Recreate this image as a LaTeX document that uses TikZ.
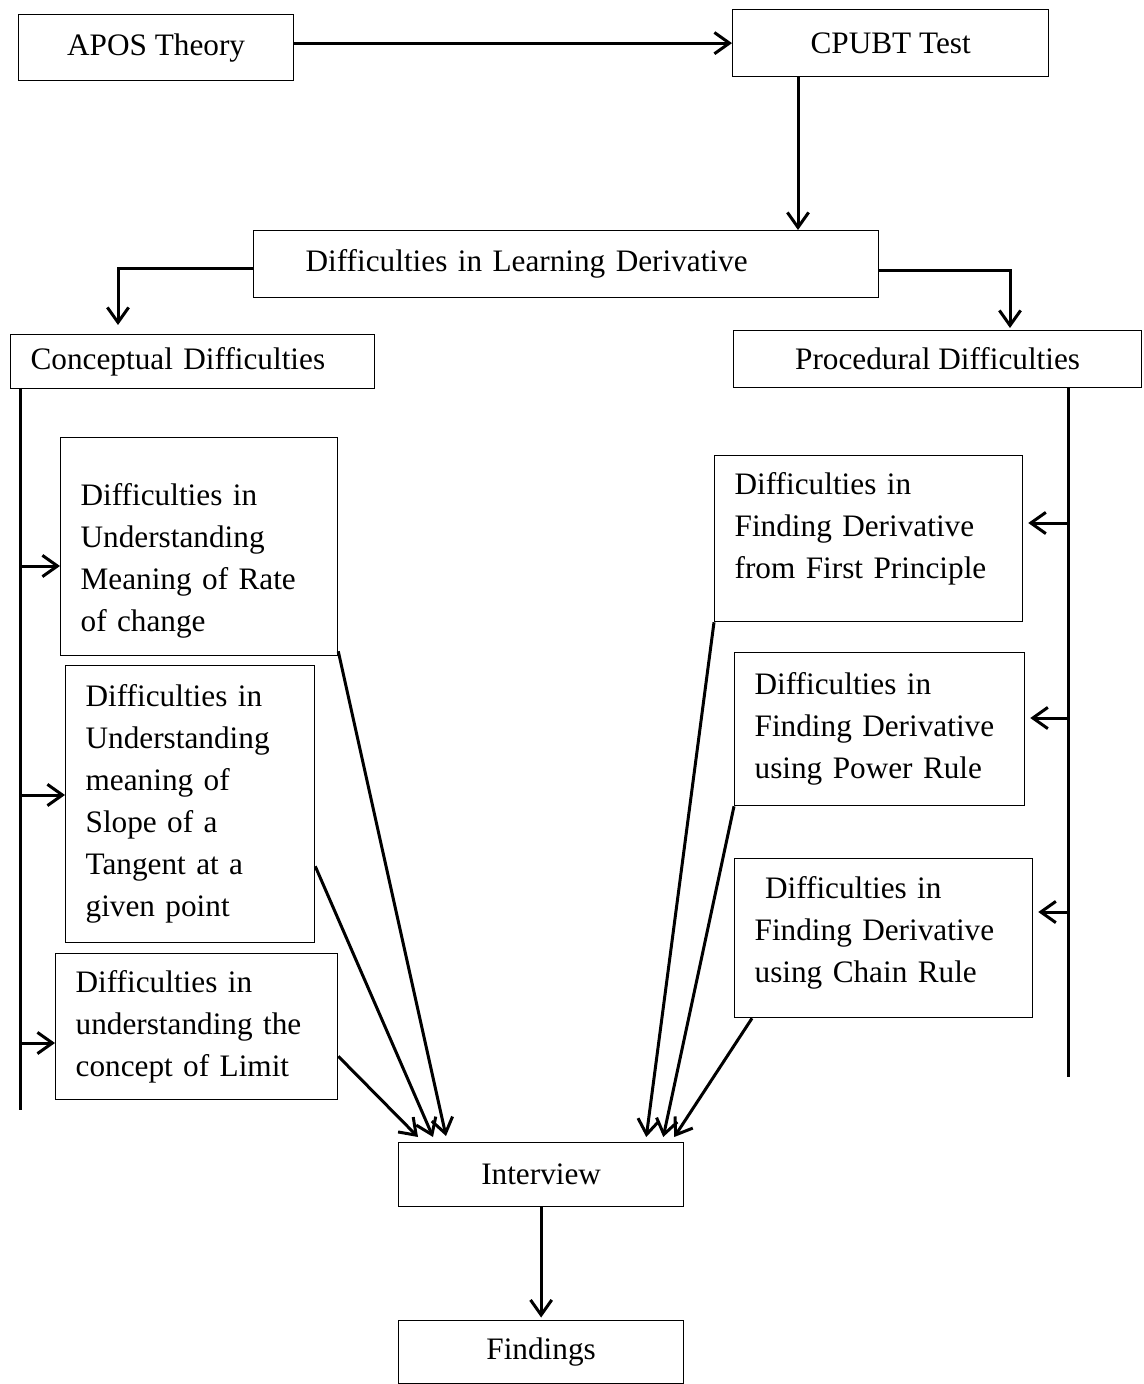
\documentclass[tikz,border=0pt]{standalone}
\usepackage{fontspec}
\setmainfont{Liberation Serif}
\usetikzlibrary{arrows.meta,calc}
\begin{document}
\begin{tikzpicture}[x=.4pt,y=-.4pt,
	box/.style={draw,line width=.5pt,anchor=north west,inner sep=0pt,font=\fontsize{12.5pt}{16.8pt}\selectfont},
	multibox/.style={box,align=left,inner xsep=8pt},
	arr/.style={line width=1.2pt,-{Straight Barb[length=6pt,width=8.5pt,line width=1.2pt]}},
	bus/.style={line width=1.2pt}]
	\useasboundingbox (0,0) rectangle (1144,1384);
	
	\node[box,minimum width=110pt,minimum height=26.4pt] (apos) at (18,14) {APOS Theory};
	\node[box,minimum width=126.4pt,minimum height=26.8pt] (cpubt) at (732,9) {CPUBT Test};
	\node[box,align=left,inner xsep=20.8pt,text width=208.4pt,minimum height=26.8pt] (learn) at (253,230) {Difficulties in Learning Derivative};
	\node[box,align=left,inner xsep=8pt,text width=129.6pt,minimum height=21.6pt] (concept) at (10,334) {Conceptual Difficulties};
	\node[box,minimum width=163.2pt,minimum height=22.8pt] (proc) at (733,330) {Procedural Difficulties};
	
	% conceptual side
	\node[multibox,text width=94.8pt,minimum height=87.2pt,text height=27.3pt,text depth=59.9pt] (rate) at (60,437) {Difficulties in\\Understanding\\Meaning of Rate\\of change};
	\node[multibox,text width=83.6pt,minimum height=110.8pt] (slope) at (65,665) {Difficulties in\\Understanding\\meaning of\\Slope of a\\Tangent at a\\given point};
	\node[multibox,text width=96.8pt,minimum height=58.4pt] (limit) at (55,953) {Difficulties in\\understanding the\\concept of Limit};
	
	% procedural side
	\node[multibox,text width=107.2pt,minimum height=66.4pt,text height=15.7pt,text depth=50.7pt] (first) at (714,455) {Difficulties in\\Finding Derivative\\from First Principle};
	\node[multibox,text width=100pt,minimum height=61.2pt] (power) at (734,652) {Difficulties in\\Finding Derivative\\using Power Rule};
	\node[multibox,text width=103.2pt,minimum height=63.6pt,text height=15.9pt,text depth=47.7pt] (chain) at (734,858) {\ Difficulties in\\Finding Derivative\\using Chain Rule};
	
	\node[box,minimum width=114pt,minimum height=25.6pt] (interview) at (398,1142) {Interview};
	\node[box,minimum width=114pt,minimum height=25.2pt] (findings) at (398,1320) {Findings};
	
	\draw[arr] (apos.east |- cpubt.west) -- (cpubt.west);
	\coordinate (cd) at ($(cpubt.south west)+(66,0)$);
	\draw[arr] (cd) -- (cd |- learn.north);
	\draw[arr] ($(learn.west)+(0,4)$) -| ($(concept.north west)+(108,-9)$);
	\draw[arr] ($(learn.east)+(0,6)$) -| ($(proc.north west)+(277,-2)$);
	
	% side lines
	\coordinate (ltop) at (20,388);
	\coordinate (lbot) at (20,1110);
	\coordinate (rtop) at (1068,387);
	\coordinate (rbot) at (1068,1077);
	\draw[bus] (ltop) -- (lbot);
	\draw[bus] (rtop) -- (rbot);
	
	\coordinate (lr) at (20,566);
	\coordinate (ls) at (20,795);
	\coordinate (ll) at (20,1043);
	\draw[arr] (lr) -- (lr -| rate.west);
	\draw[arr] (ls) -- (ls -| slope.west);
	\draw[arr] (ll) -- (ll -| limit.west);
	
	\coordinate (rf) at (1068,523);
	\coordinate (rp) at (1068,718);
	\coordinate (rc) at (1068,912);
	\draw[arr,shorten >=2pt] (rf) -- (rf -| first.east);
	\draw[arr,shorten >=2pt] (rp) -- (rp -| power.east);
	\draw[arr,shorten >=2pt] (rc) -- (rc -| chain.east);
	
	% into interview
	\draw[arr] ($(rate.south east)+(0,-5)$) -- ($(interview.north west)+(48,-6)$);
	\draw[arr] ($(slope.south east)+(0,-77)$) -- ($(interview.north west)+(35,-5)$);
	\draw[arr] ($(limit.south east)+(0,-44)$) -- ($(interview.north west)+(20,-5)$);
	\draw[arr] (first.south west) -- ($(interview.north east)+(-38,-5)$);
	\draw[arr] (power.south west) -- ($(interview.north east)+(-21,-5)$);
	\draw[arr] ($(chain.south west)+(18,0)$) -- ($(interview.north east)+(-10,-5)$);
	
	\draw[arr,shorten >=1pt] (interview.south) -- (findings.north);
\end{tikzpicture}
\end{document}
